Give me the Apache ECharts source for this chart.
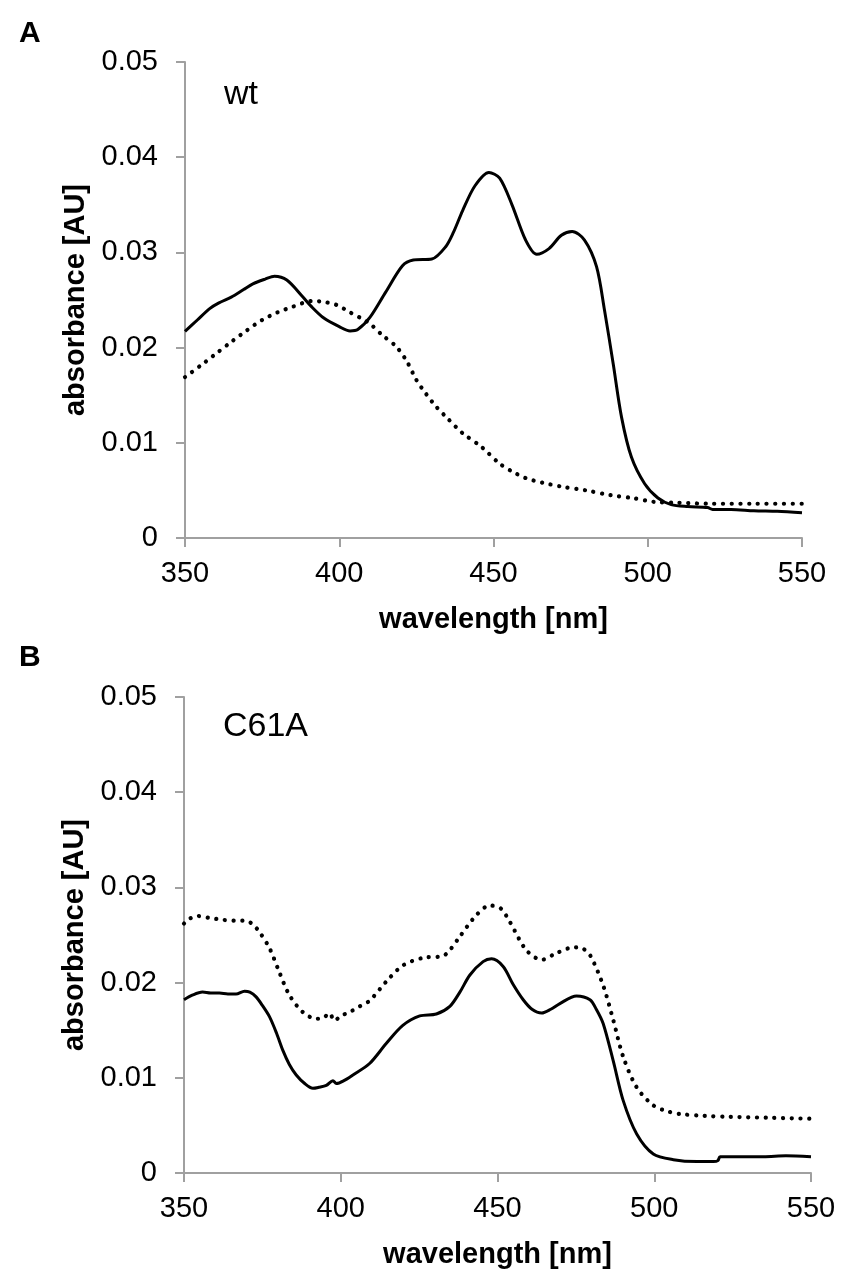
<!DOCTYPE html>
<html>
<head>
<meta charset="utf-8">
<script src="https://cdn.jsdelivr.net/npm/echarts@6/dist/echarts.min.js"></script>
<style>
  html, body { margin: 0; padding: 0; background: #fff; }
  #chart { width: 847px; height: 1281px; }
</style>
</head>
<body>
<div id="chart"></div>
<script>
// ---- Panel A (wt) ----
const wtSolidNm = [350, 354, 358, 361, 365, 369, 372, 376, 379, 383, 388, 391, 395, 400, 403.5, 406, 410, 415, 420.5, 424, 430, 434.5, 437, 440, 444, 448.5, 452, 456, 460.4, 464, 468, 472, 475.5, 479.5, 483.4, 486, 488.8, 491.5, 494.7, 499, 503.3, 507.6, 513, 519.4, 521, 527, 534.4, 542, 550];
const wtSolidAbs = [0.0217, 0.0229, 0.0241, 0.0247, 0.0253, 0.0261, 0.0267, 0.0272, 0.0275, 0.0271, 0.0254, 0.0243, 0.0231, 0.0222, 0.02175, 0.0219, 0.0232, 0.0258, 0.0286, 0.0292, 0.0293, 0.0306, 0.0321, 0.0344, 0.0370, 0.0384, 0.0378, 0.0350, 0.0313, 0.0298, 0.0304, 0.0318, 0.0322, 0.0313, 0.0285, 0.0239, 0.0183, 0.0127, 0.0085, 0.0057, 0.0042, 0.0035, 0.0033, 0.0032, 0.0030, 0.0030, 0.00286, 0.0028, 0.00265];

const wtDottedNm = [350, 355, 359.4, 365, 370, 375, 380, 385, 388.4, 391.5, 395, 399, 403.5, 407, 410, 414, 418.5, 422, 425, 428, 431.4, 435, 440, 446, 452, 456, 460.4, 466, 472, 480, 488, 495, 502, 510, 520, 535, 550];
const wtDottedAbs = [0.0169, 0.0181, 0.0192, 0.0206, 0.0218, 0.0229, 0.0237, 0.0243, 0.0247, 0.0249, 0.0248, 0.0245, 0.0237, 0.0231, 0.0225, 0.0213, 0.0201, 0.0185, 0.0166, 0.0152, 0.0138, 0.0126, 0.0110, 0.0096, 0.0078, 0.0070, 0.0063, 0.0058, 0.0054, 0.0050, 0.0045, 0.0042, 0.0038, 0.0037, 0.0036, 0.0036, 0.0036];

// ---- Panel B (C61A) ----
const c61aSolidNm = [350, 352.8, 355.9, 358.5, 361.3, 364, 366.6, 369.3, 371, 373, 375, 377.3, 379.5, 381.5, 383.6, 385.8, 388.5, 391.1, 393, 395.4, 397.5, 398.6, 401, 403.9, 409.2, 414.5, 419.8, 425.2, 430.5, 434.8, 438, 441.2, 445.4, 448.1, 451.8, 455, 458.2, 461, 464.1, 467, 469.9, 475.2, 479.5, 481.5, 483.7, 486.9, 490.1, 494.4, 499.7, 506.1, 513.6, 518.9, 520.3, 521, 528, 534.9, 542, 550];
const c61aSolidAbs = [0.0182, 0.0187, 0.0190, 0.0189, 0.0189, 0.0188, 0.0188, 0.0191, 0.0190, 0.0185, 0.0176, 0.0164, 0.0147, 0.0129, 0.0114, 0.0103, 0.0094, 0.0089, 0.0090, 0.0092, 0.0097, 0.0094, 0.0097, 0.0103, 0.0115, 0.0136, 0.0155, 0.0165, 0.0167, 0.0175, 0.0190, 0.0208, 0.0222, 0.0225, 0.0217, 0.0198, 0.0182, 0.0172, 0.0168, 0.0172, 0.0178, 0.0186, 0.0182, 0.0172, 0.0157, 0.0118, 0.0076, 0.0041, 0.0020, 0.0014, 0.0012, 0.0012, 0.0013, 0.0017, 0.0017, 0.0017, 0.0018, 0.0017];

const c61aDottedNm = [350, 351.7, 354.3, 358, 362.3, 366, 369.8, 372, 374.1, 377.3, 380.4, 383.6, 387.9, 392.2, 394.5, 396.4, 398, 400, 402.8, 406, 409.2, 414.5, 419.8, 426.2, 432.6, 435, 437.9, 443.3, 447.5, 451, 453.9, 459.2, 464.1, 468.8, 474.2, 477, 479.5, 483.7, 486.9, 490.1, 494.4, 499.7, 504, 508.2, 516, 524.2, 537, 550];
const c61aDottedAbs = [0.0262, 0.0267, 0.0270, 0.0268, 0.0266, 0.0265, 0.0265, 0.0261, 0.0253, 0.0236, 0.0211, 0.0187, 0.0169, 0.0162, 0.0163, 0.0168, 0.0160, 0.0165, 0.0169, 0.0175, 0.0181, 0.0201, 0.0218, 0.0226, 0.0228, 0.0235, 0.0248, 0.0271, 0.0281, 0.0278, 0.0264, 0.0234, 0.0224, 0.0231, 0.0237, 0.0236, 0.0229, 0.0197, 0.0161, 0.0122, 0.0090, 0.0071, 0.0065, 0.0062, 0.0060, 0.0059, 0.0058, 0.0057];

// ---- Axis settings / labels ----
const xTicks = { min: 350, max: 550, interval: 50 };
const yTicks = { min: 0, max: 0.05, interval: 0.01 };
const xTitle = 'wavelength [nm]';
const yTitle = 'absorbance [AU]';
const panelLetters = ['A', 'B'];
const panelNames = ['wt', 'C61A'];

const zip = (xs, ys) => xs.map((x, i) => [x, ys[i]]);

const FONT = "'Liberation Sans', Arial, Helvetica, sans-serif";
const AXIS_COLOR = '#a0a0a0';

function xAxisFor(gridIndex) {
  return {
    type: 'value', gridIndex,
    min: xTicks.min, max: xTicks.max, interval: xTicks.interval,
    name: xTitle, nameLocation: 'middle', nameGap: 67,
    nameTextStyle: { fontFamily: FONT, fontWeight: 'bold', fontSize: 29, color: '#000' },
    axisLine: { show: true, lineStyle: { color: AXIS_COLOR, width: 2 } },
    axisTick: { show: true, inside: false, length: 9, lineStyle: { color: AXIS_COLOR, width: 2 } },
    axisLabel: { margin: 21, fontFamily: FONT, fontSize: 29, color: '#000' },
    splitLine: { show: false }
  };
}
function yAxisFor(gridIndex) {
  return {
    type: 'value', gridIndex,
    min: yTicks.min, max: yTicks.max, interval: yTicks.interval,
    name: yTitle, nameLocation: 'middle', nameGap: 90, nameRotate: 90,
    nameTextStyle: { fontFamily: FONT, fontWeight: 'bold', fontSize: 29, color: '#000' },
    axisLine: { show: true, lineStyle: { color: AXIS_COLOR, width: 2 } },
    axisTick: { show: true, inside: false, length: 9, lineStyle: { color: AXIS_COLOR, width: 2 } },
    axisLabel: {
      margin: 27, fontFamily: FONT, fontSize: 29, color: '#000',
      formatter: v => (v === 0 ? '0' : v.toFixed(2))
    },
    splitLine: { show: false }
  };
}
function solid(name, data, idx) {
  return {
    name, type: 'line', data, xAxisIndex: idx, yAxisIndex: idx,
    showSymbol: false, smooth: 0.3,
    lineStyle: { color: '#000', width: 3 }, silent: true, z: 3
  };
}
function dotted(name, data, idx) {
  return {
    name, type: 'line', data, xAxisIndex: idx, yAxisIndex: idx,
    showSymbol: false, smooth: 0.3,
    lineStyle: { color: '#000', width: 4.2, type: [0.1, 8.6], cap: 'round' }, silent: true, z: 2
  };
}

const chart = echarts.init(document.getElementById('chart'), null, { renderer: 'canvas' });
chart.setOption({
  backgroundColor: '#fff',
  animation: false,
  grid: [
    { left: 185, top: 62, width: 617, height: 476 },
    { left: 184, top: 697, width: 627, height: 476 }
  ],
  xAxis: [xAxisFor(0), xAxisFor(1)],
  yAxis: [yAxisFor(0), yAxisFor(1)],
  series: [
    solid('wt solid', zip(wtSolidNm, wtSolidAbs), 0),
    dotted('wt dotted', zip(wtDottedNm, wtDottedAbs), 0),
    solid('C61A solid', zip(c61aSolidNm, c61aSolidAbs), 1),
    dotted('C61A dotted', zip(c61aDottedNm, c61aDottedAbs), 1)
  ],
  graphic: [
    { type: 'text', left: 19, top: 19, style: { text: panelLetters[0], font: `bold 30px ${FONT}`, fill: '#000' } },
    { type: 'text', left: 19, top: 643, style: { text: panelLetters[1], font: `bold 30px ${FONT}`, fill: '#000' } },
    { type: 'text', left: 224, top: 78, style: { text: panelNames[0], font: `34px ${FONT}`, fill: '#000' } },
    { type: 'text', left: 223, top: 710, style: { text: panelNames[1], font: `34px ${FONT}`, fill: '#000' } }
  ]
});
</script>
</body>
</html>
